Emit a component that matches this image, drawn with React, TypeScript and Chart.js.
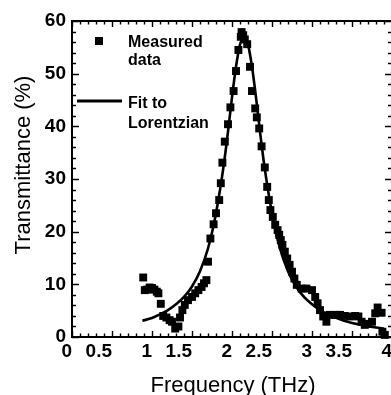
import React, { useEffect, useRef } from "react";
import { Chart, registerables } from "chart.js";

Chart.register(...registerables);

// Measured transmittance
const measuredFreq = [
  0.89, 0.91, 0.94, 0.97, 1.0, 1.03, 1.06, 1.08, 1.11, 1.14, 1.18, 1.22, 1.25, 1.29, 1.33,
  1.35, 1.38, 1.41, 1.45, 1.5, 1.54, 1.58, 1.62, 1.65, 1.68, 1.7, 1.73, 1.77, 1.8, 1.84,
  1.86, 1.88, 1.91, 1.95, 1.98, 2.02, 2.05, 2.08, 2.11, 2.12, 2.14, 2.16, 2.19, 2.225, 2.25,
  2.29, 2.31, 2.34, 2.37, 2.41, 2.44, 2.46, 2.48, 2.51, 2.54, 2.57, 2.59, 2.61, 2.63, 2.66,
  2.69, 2.72, 2.75, 2.78, 2.81, 2.87, 2.93, 3.0, 3.04, 3.07, 3.1, 3.14, 3.18, 3.22, 3.29,
  3.35, 3.41, 3.48, 3.54, 3.58, 3.62, 3.66, 3.7, 3.75, 3.79, 3.82, 3.87, 3.88, 3.91,
];
const measuredTrans = [
  11.3, 8.9, 9.0, 9.4, 9.3, 9.0, 8.6, 8.3, 6.3, 4.0, 3.7, 3.2, 2.9, 1.6, 2.0,
  3.7, 5.1, 6.1, 7.0, 7.6, 8.3, 8.9, 9.5, 10.2, 10.8, 14.3, 18.7, 21.4, 23.5, 26.0,
  29.2, 33.1, 37.1, 40.4, 43.6, 46.7, 50.5, 54.5, 57.0, 57.9, 57.3, 56.5, 55.6, 51.3, 46.7,
  43.4, 41.7, 39.6, 36.2, 32.2, 28.5, 26.0, 24.1, 22.8, 21.3, 20.3, 19.4, 18.4, 17.5, 16.2,
  14.9, 13.7, 12.4, 11.1, 9.9, 9.2, 9.2, 8.9, 7.6, 6.4, 5.1, 3.9, 2.9, 4.2, 4.2,
  4.2, 4.0, 3.9, 4.0, 3.9, 2.9, 2.3, 2.5, 2.9, 4.5, 5.6, 4.6, 1.0, 0.4,
];

// Lorentzian fit curve
const fitFreq = [
  0.88, 1.0, 1.1, 1.2, 1.3, 1.4, 1.5, 1.6, 1.7, 1.8, 1.9, 1.95, 2.0, 2.05, 2.1, 2.15, 2.2,
  2.25, 2.3, 2.35, 2.4, 2.5, 2.6, 2.7, 2.8, 2.9, 3.0, 3.1, 3.2, 3.4, 3.6, 3.8, 3.9,
];
const fitTrans = [
  3.1, 3.6, 4.3, 5.1, 6.2, 7.6, 9.6, 12.5, 16.8, 23.5, 33.0, 39.0, 45.5, 51.3, 55.5, 57.0, 55.5,
  51.3, 45.5, 39.0, 33.0, 23.5, 16.8, 12.5, 9.6, 7.6, 6.2, 5.1, 4.3, 3.1, 2.35, 1.8, 1.6,
];

const xTickLabels = ["0", "0.5", "1", "1.5", "2", "2.5", "3", "3.5", "4"];
const yTickLabels = ["0", "10", "20", "30", "40", "50", "60"];
const xTitle = "Frequency (THz)";
const yTitle = "Transmittance (%)";
const legendMeasured = ["Measured", "data"];
const legendFit = ["Fit to", "Lorentzian"];

const FONT = '"Liberation Sans", Arial, Helvetica, sans-serif';

const decorPlugin = {
  id: "decor",
  afterDraw(chart: any) {
    const { ctx, chartArea: a, scales } = chart;
    const x = scales.x;
    const y = scales.y;
    ctx.save();
    ctx.strokeStyle = "#000";
    ctx.fillStyle = "#000";
    // frame
    ctx.lineWidth = 2;
    ctx.strokeRect(a.left, a.top, a.right - a.left, a.bottom - a.top);
    // inward ticks
    ctx.lineWidth = 1.4;
    ctx.beginPath();
    for (let i = 0; i <= 40; i++) {
      const px = Math.round(x.getPixelForValue(i / 10)) + 0.5;
      const len = i % 5 === 0 ? 6 : 3.5;
      ctx.moveTo(px, a.bottom);
      ctx.lineTo(px, a.bottom - len);
      ctx.moveTo(px, a.top);
      ctx.lineTo(px, a.top + len);
    }
    for (let i = 0; i <= 30; i++) {
      const py = Math.round(y.getPixelForValue(i * 2)) + 0.5;
      const len = i % 5 === 0 ? 7 : 4;
      ctx.moveTo(a.left, py);
      ctx.lineTo(a.left + len, py);
      ctx.moveTo(a.right, py);
      ctx.lineTo(a.right - len, py);
    }
    ctx.stroke();

    // axis titles
    ctx.font = `22px ${FONT}`;
    ctx.textAlign = "center";
    ctx.textBaseline = "alphabetic";
    ctx.fillText(xTitle, 233, 392);
    ctx.save();
    ctx.translate(30, 165);
    ctx.rotate(-Math.PI / 2);
    ctx.fillText(yTitle, 0, 0);
    ctx.restore();

    // legend
    ctx.fillRect(95, 37, 8, 8);
    ctx.lineWidth = 3;
    ctx.beginPath();
    ctx.moveTo(77, 101);
    ctx.lineTo(122, 101);
    ctx.stroke();
    ctx.font = `bold 16px ${FONT}`;
    ctx.textAlign = "left";
    ctx.fillText(legendMeasured[0], 128, 47);
    ctx.fillText(legendMeasured[1], 128, 65);
    ctx.fillText(legendFit[0], 128, 108);
    ctx.fillText(legendFit[1], 128, 128);
    ctx.restore();
  },
};

export default function App() {
  const ref = useRef<HTMLCanvasElement | null>(null);

  useEffect(() => {
    if (!ref.current) return;
    const chart = new Chart(ref.current, {
      type: "scatter",
      data: {
        datasets: [
          {
            label: "Fit to Lorentzian",
            data: fitFreq.map((f, i) => ({ x: f, y: fitTrans[i] })),
            showLine: true,
            borderColor: "#000",
            borderWidth: 2.6,
            pointRadius: 0,
            cubicInterpolationMode: "monotone",
            fill: false,
          },
          {
            label: "Measured data",
            data: measuredFreq.map((f, i) => ({ x: f, y: measuredTrans[i] })),
            showLine: false,
            pointStyle: "rect",
            pointRadius: 5.6,
            pointBackgroundColor: "#000",
            pointBorderWidth: 0,
            clip: false,
          },
        ],
      },
      options: {
        responsive: false,
        animation: false,
        devicePixelRatio: 1,
        layout: { padding: { top: 21, right: 8, left: 0, bottom: 0 } },
        plugins: { legend: { display: false }, tooltip: { enabled: false } },
        scales: {
          x: {
            type: "linear",
            min: 0,
            max: 4,
            grid: { display: false, drawTicks: false },
            border: { display: false },
            ticks: {
              stepSize: 0.5,
              autoSkip: false,
              maxRotation: 0,
              align: "end",
              padding: 3,
              color: "#000",
              font: { family: FONT, size: 19, weight: "bold" },
              callback: (v: any) => {
                const idx = Math.round(Number(v) * 2);
                return xTickLabels[idx] ?? "";
              },
            },
            afterFit: (s: any) => {
              s.height = 58;
            },
          },
          y: {
            type: "linear",
            min: 0,
            max: 60,
            grid: { display: false, drawTicks: false },
            border: { display: false },
            ticks: {
              stepSize: 10,
              padding: 6,
              color: "#000",
              font: { family: FONT, size: 19, weight: "bold" },
              callback: (v: any) => {
                const idx = Math.round(Number(v) / 10);
                return yTickLabels[idx] ?? "";
              },
            },
            afterFit: (s: any) => {
              s.width = 72;
            },
          },
        },
      },
      plugins: [decorPlugin],
    });
    return () => chart.destroy();
  }, []);

  return (
    <div
      style={{
        position: "fixed",
        left: 0,
        top: 0,
        width: 391,
        height: 395,
        overflow: "hidden",
        background: "#fff",
      }}
    >
      <canvas ref={ref} width={400} height={395} style={{ display: "block", width: 400, height: 395 }} />
    </div>
  );
}
